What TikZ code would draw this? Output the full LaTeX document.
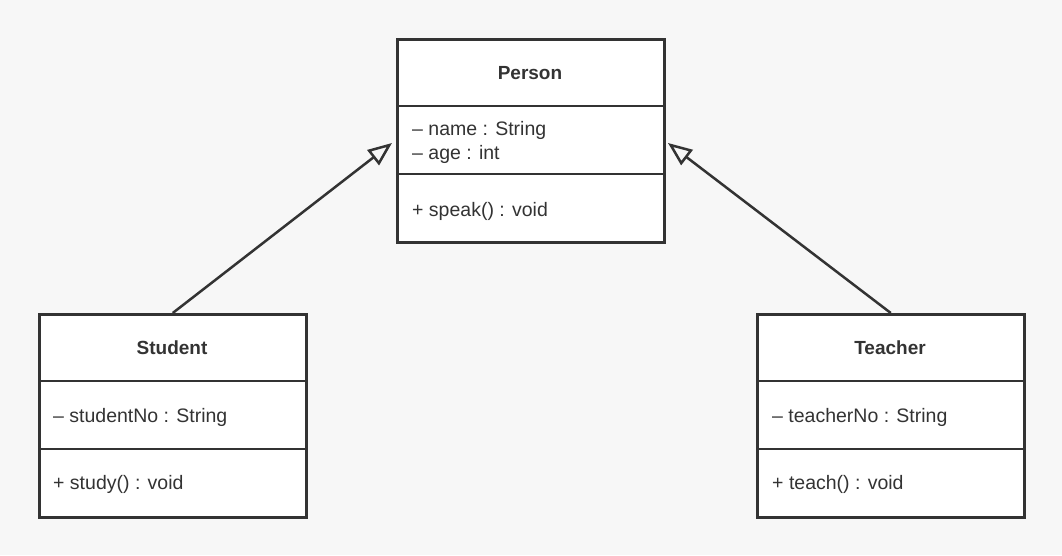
\documentclass[tikz,border=0pt]{standalone}
\usepackage{fontspec}
\setmainfont{Liberation Sans}
\usetikzlibrary{arrows.meta}
\definecolor{bg}{HTML}{F7F7F7}
\definecolor{ink}{HTML}{333333}
\begin{document}
\begin{tikzpicture}[x=1pt,y=-1pt,
  cls/.style={draw=ink, fill=white, line width=2.5pt, minimum width=267pt, minimum height=203pt, inner sep=0pt, anchor=north west},
  divider/.style={draw=ink, line width=2.5pt},
  title/.style={font=\fontsize{19}{22}\selectfont\bfseries, text=ink},
  member/.style={font=\fontsize{19.5}{22}\selectfont, text=ink, anchor=west, inner sep=0pt},
  inherit/.style={draw=ink, line width=2.5pt, -{Triangle[open, length=24pt, width=19pt, line width=2.5pt]}}
]
\fill[bg] (0,0) rectangle (1062,555);
\useasboundingbox (0,0) rectangle (1062,555);

% Person
\node[cls] (person) at (396,38) {};
\draw[divider] (person.west |- 0,106) -- (person.east |- 0,106);
\draw[divider] (person.west |- 0,174) -- (person.east |- 0,174);
\node[title] (ptitle) at (530,73) {Person};
\node[member] (pa1) at (412,130) {– name : String};
\node[member] (pa2) at (412,154) {– age : int};
\node[member] (pm1) at (412,211) {+ speak() : void};

% Student
\node[cls] (student) at (38,313) {};
\draw[divider] (student.west |- 0,381) -- (student.east |- 0,381);
\draw[divider] (student.west |- 0,449) -- (student.east |- 0,449);
\node[title] (stitle) at (172,348) {Student};
\node[member] (sa1) at (53,417) {– studentNo : String};
\node[member] (sm1) at (53,484) {+ study() : void};

% Teacher
\node[cls] (teacher) at (756,313) {};
\draw[divider] (teacher.west |- 0,381) -- (teacher.east |- 0,381);
\draw[divider] (teacher.west |- 0,449) -- (teacher.east |- 0,449);
\node[title] (ttitle) at (890,348) {Teacher};
\node[member] (ta1) at (772,417) {– teacherNo : String};
\node[member] (tm1) at (772,484) {+ teach() : void};

% Inheritance
\coordinate (ptipL) at (392,143);
\coordinate (ptipR) at (668,143);
\draw[inherit] (student.north) -- (ptipL);
\draw[inherit] (teacher.north) -- (ptipR);
\end{tikzpicture}
\end{document}
